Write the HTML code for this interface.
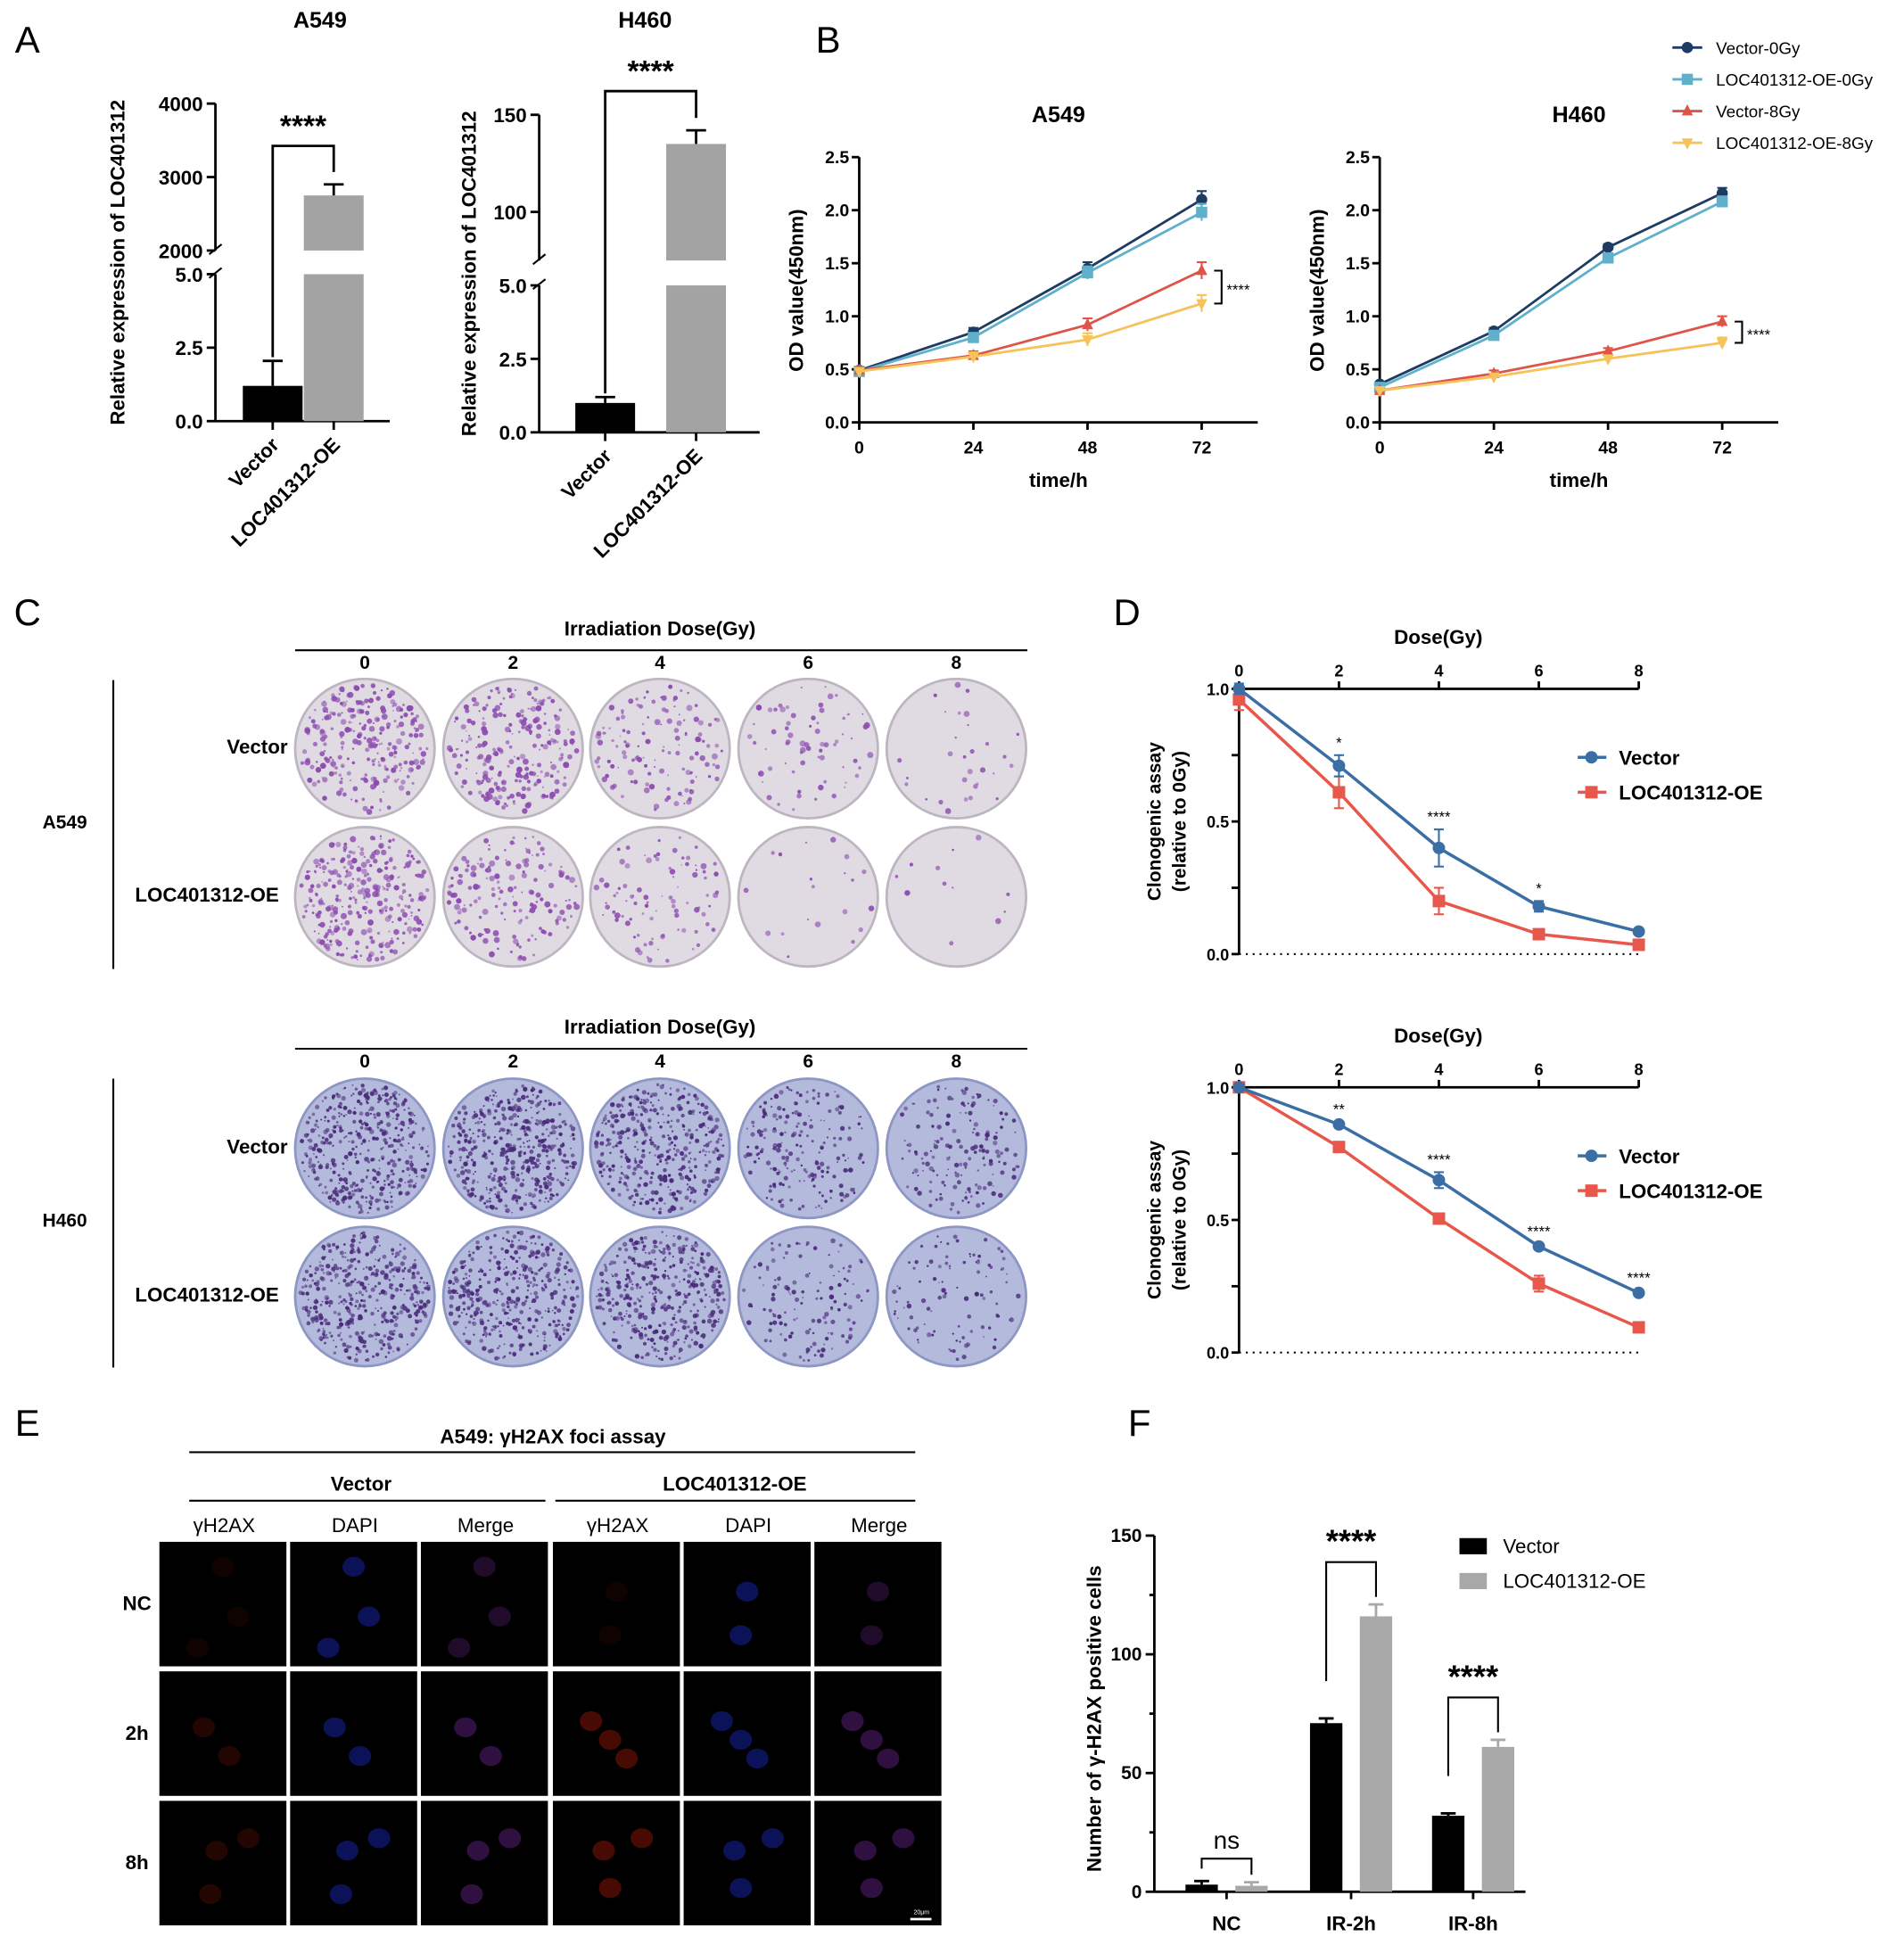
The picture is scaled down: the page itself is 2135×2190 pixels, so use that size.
<!DOCTYPE html>
<html><head><meta charset="utf-8"><style>
html,body{margin:0;padding:0;background:#fff}
svg{display:block}
text{font-family:"Liberation Sans",Arial,sans-serif}
</style></head><body>
<svg id="fig" xmlns="http://www.w3.org/2000/svg" width="2135" height="2190" viewBox="0 0 1529 1568"></svg>
<script>
// ---- data ----
const aCats=["Vector","LOC401312-OE"];
const aA549Vals=[1.2,2750];
const aA549Err=[2.05,2900];
const aH460Vals=[1.0,135];
const aH460Err=[1.2,142];
const bTimes=[0,24,48,72];
const bTicksY=[0,0.5,1.0,1.5,2.0,2.5];
const bA549V0=[0.49,0.85,1.45,2.10];
const bA549OE0=[0.48,0.80,1.41,1.98];
const bA549V8=[0.49,0.63,0.92,1.43];
const bA549OE8=[0.48,0.62,0.78,1.12];
const bA549Err=[0.03,0.04,0.06,0.08];
const bH460V0=[0.36,0.86,1.65,2.16];
const bH460OE0=[0.33,0.82,1.55,2.08];
const bH460V8=[0.30,0.46,0.67,0.95];
const bH460OE8=[0.30,0.43,0.60,0.75];
const bH460Err=[0.02,0.03,0.03,0.05];
const dDoses=[0,2,4,6,8];
const dA549Vec=[1.0,0.71,0.40,0.18,0.085];
const dA549VecErr=[0.02,0.04,0.07,0.02,0.01];
const dA549OE=[0.96,0.61,0.20,0.075,0.035];
const dA549OEErr=[0.04,0.06,0.05,0.01,0.01];
const dA549Stars=["","*","****","*",""];
const dH460Vec=[1.0,0.86,0.65,0.40,0.225];
const dH460VecErr=[0.01,0.01,0.03,0.01,0.01];
const dH460OE=[1.0,0.775,0.505,0.26,0.095];
const dH460OEErr=[0.01,0.01,0.01,0.03,0.01];
const dH460Stars=["","**","****","****","****"];
const fGroups=["NC","IR-2h","IR-8h"];
const fVector=[3,71,32];
const fVectorErr=[4.5,73,33];
const fOE=[2.5,116,61];
const fOEErr=[4,121,64];
const fSig=["ns","****","****"];
const cDoses=["0","2","4","6","8"];
const cA549Vec=[260,240,130,70,30];
const cA549OE=[300,160,90,20,12];
const cH460Vec=[420,440,380,200,160];
const cH460OE=[400,380,380,130,100];

// ---- helpers ----
const NS="http://www.w3.org/2000/svg";
const svg=document.getElementById('fig');
function mk(tag,a,name,p){
  const e=document.createElementNS(NS,tag);
  for(const k in a) e.setAttribute(k,a[k]);
  
  
  (p||svg).appendChild(e);return e;
}
function tx(x,y,s,name,o){
  o=o||{};
  const e=mk('text',{x:x,y:y,'font-size':o.fs||15,'font-weight':o.fw||'bold','text-anchor':o.a||'middle',fill:o.fill||'#000'},name,o.p);
  if(o.rot!==undefined) e.setAttribute('transform',`rotate(${o.rot} ${x} ${y})`);
  e.textContent=s;return e;
}
function ln(x1,y1,x2,y2,name,o){o=o||{};return mk('line',{x1,y1,x2,y2,stroke:o.c||'#000','stroke-width':o.w||2,'stroke-dasharray':o.d||'none'},name,o.p);}
function rc(x,y,w,h,f,name){return mk('rect',{x,y,width:w,height:h,fill:f},name);}
function marker(t,x,y,c,name,s){
  s=s||5;
  if(t==='circle') return mk('circle',{cx:x,cy:y,r:s,fill:c},name);
  if(t==='square') return mk('rect',{x:x-s,y:y-s,width:2*s,height:2*s,fill:c},name);
  if(t==='up') return mk('polygon',{points:`${x},${y-s-1} ${x-s},${y+s-1} ${x+s},${y+s-1}`,fill:c},name);
  return mk('polygon',{points:`${x},${y+s+1} ${x-s},${y-s+1} ${x+s},${y-s+1}`,fill:c},name);
}
let seed=7;function rnd(){seed=(seed*16807)%2147483647;return seed/2147483647;}

// ---- panel letters ----
[["A",22,42],["B",665,42],["C",22,502],["D",905,502],["E",22,1153],["F",915,1153]].forEach(l=>tx(l[1],l[2],l[0],'panel-label-'+l[0].toLowerCase(),{fs:30,fw:'normal',a:'middle'}));

// ---- Panel A ----
function panelA(cfg){
  const X=cfg.ax, n=cfg.name;
  tx(cfg.titleX,22,cfg.title,n+'-title',{fs:18});
  ln(X,cfg.uTop,X,cfg.uBot,n+'-y-axis-upper');
  ln(X,cfg.lTop,X,cfg.base,n+'-y-axis-lower');
  ln(X-5,cfg.uBot+3,X+5,cfg.uBot-5,n+'-axis-break-1',{w:1.5});
  ln(X-5,cfg.lTop+3,X+5,cfg.lTop-5,n+'-axis-break-2',{w:1.5});
  ln(X,cfg.base,cfg.xEnd,cfg.base,n+'-x-axis');
  const yl=v=>cfg.base-(v/5)*(cfg.base-cfg.lTop);
  const yu=v=>cfg.uRef-(v-cfg.uRefV)*cfg.uScale;
  const Y=v=>v<=5?yl(v):yu(v);
  cfg.lowTicks.forEach(t=>{ln(X-7,yl(t),X,yl(t),n+'-tick');tx(X-10,yl(t)+6,t.toFixed(1),n+'-tick-label',{fs:16,a:'end'});});
  cfg.upTicks.forEach(t=>{ln(X-7,yu(t),X,yu(t),n+'-tick');tx(X-10,yu(t)+6,String(t),n+'-tick-label',{fs:16,a:'end'});});
  tx(cfg.ylx,(cfg.uTop+cfg.base)/2,'Relative expression of LOC401312',n+'-y-axis-title',{fs:16,rot:-90});
  const vals=cfg.vals, errs=cfg.errs;
  const b0=cfg.bars[0];
  rc(b0,Y(vals[0]),48,cfg.base-Y(vals[0]),'#000',n+'-bar-vector');
  ln(b0+24,Y(vals[0]),b0+24,Y(errs[0]),n+'-err-vector');
  ln(b0+16,Y(errs[0]),b0+32,Y(errs[0]),n+'-err-cap-vector');
  const b1=cfg.bars[1];
  rc(b1,cfg.lTop,48,cfg.base-cfg.lTop,'#a3a3a3',n+'-bar-oe-lower');
  rc(b1,Y(vals[1]),48,cfg.uBot-Y(vals[1]),'#a3a3a3',n+'-bar-oe-upper');
  ln(b1+24,Y(vals[1]),b1+24,Y(errs[1]),n+'-err-oe');
  ln(b1+16,Y(errs[1]),b1+32,Y(errs[1]),n+'-err-cap-oe');
  mk('polyline',{points:`${b0+24},${Y(errs[0])-3} ${b0+24},${cfg.brY} ${b1+24},${cfg.brY} ${b1+24},${Y(errs[1])-10}`,fill:'none',stroke:'#000','stroke-width':2},n+'-sig-bracket');
  tx((b0+b1)/2+24,cfg.brY-8,'****',n+'-sig-stars',{fs:24});
  ln(b0+24,cfg.base,b0+24,cfg.base+7,n+'-x-tick');ln(b1+24,cfg.base,b1+24,cfg.base+7,n+'-x-tick');
  tx(b0+30,cfg.base+20,aCats[0],n+'-x-label-vector',{fs:16,a:'end',rot:-45});
  tx(b1+30,cfg.base+20,aCats[1],n+'-x-label-oe',{fs:16,a:'end',rot:-45});
}
panelA({name:'a549-expr',title:'A549',titleX:257,ax:173,uTop:83,uBot:201,lTop:220,base:338,xEnd:313,
  uRef:83,uRefV:4000,uScale:59/1000,upTicks:[4000,3000,2000],lowTicks:[0,2.5,5],ylx:100,
  vals:aA549Vals,errs:aA549Err,bars:[195,244],brY:117});
panelA({name:'h460-expr',title:'H460',titleX:518,ax:433,uTop:92,uBot:209,lTop:229,base:347,xEnd:610,
  uRef:92,uRefV:150,uScale:78/50,upTicks:[150,100],lowTicks:[0,2.5,5],ylx:382,
  vals:aH460Vals,errs:aH460Err,bars:[462,535],brY:73});

// ---- Panel B ----
const bSeries=[["Vector-0Gy","#1d3b63","circle"],["LOC401312-OE-0Gy","#5fb0cb","square"],["Vector-8Gy","#df5448","up"],["LOC401312-OE-8Gy","#f6c25a","down"]];
bSeries.forEach((s,i)=>{const y=38+i*25.5;ln(1343,y,1367,y,'legend-line-'+i,{c:s[1],w:2});marker(s[2],1355,y,s[1],'legend-marker-'+i,4.5);tx(1378,y+5,s[0],'legend-entry-'+i,{fs:13.5,fw:'normal',a:'start'});});
function panelB(cfg){
  const n=cfg.name,X=cfg.ax,base=339;
  const xs=t=>X+t/72*275, ys=v=>base-v/2.5*213;
  tx(X+160,98,cfg.title,n+'-title',{fs:18});
  ln(X,ys(2.5),X,base,n+'-y-axis');ln(X,base,X+320,base,n+'-x-axis');
  bTicksY.forEach(t=>{ln(X-6,ys(t),X,ys(t),n+'-y-tick');tx(X-8,ys(t)+5,t.toFixed(1),n+'-y-tick-label',{fs:14,a:'end'});});
  bTimes.forEach(t=>{ln(xs(t),base,xs(t),base+6,n+'-x-tick');tx(xs(t),base+25,String(t),n+'-x-tick-label',{fs:14});});
  tx(X+160,391,'time/h',n+'-x-axis-title',{fs:16});
  tx(X-45,base-106,'OD value(450nm)',n+'-y-axis-title',{fs:16,rot:-90});
  cfg.series.forEach((d,si)=>{
    const s=bSeries[si];
    mk('polyline',{points:d.map((v,i)=>xs(bTimes[i])+','+ys(v)).join(' '),fill:'none',stroke:s[1],'stroke-width':2},n+'-line-'+si);
    d.forEach((v,i)=>{const e=cfg.err[i];ln(xs(bTimes[i]),ys(v-e),xs(bTimes[i]),ys(v+e),n+'-err-'+si,{c:s[1],w:1.5});ln(xs(bTimes[i])-4,ys(v+e),xs(bTimes[i])+4,ys(v+e),n+'-err-cap',{c:s[1],w:1.5});marker(s[2],xs(bTimes[i]),ys(v),s[1],n+'-point-'+si,4.5);});
  });
  const bx=xs(72)+10, y1=ys(cfg.series[2][3]), y2=ys(cfg.series[3][3]);
  mk('polyline',{points:`${bx},${y1} ${bx+6},${y1} ${bx+6},${y2} ${bx},${y2}`,fill:'none',stroke:'#000','stroke-width':1.5},n+'-sig-bracket');
  tx(bx+10,(y1+y2)/2+6,'****',n+'-sig-stars',{fs:12,a:'start',fw:'normal'});
}
panelB({name:'b-a549',title:'A549',ax:690,series:[bA549V0,bA549OE0,bA549V8,bA549OE8],err:bA549Err});
panelB({name:'b-h460',title:'H460',ax:1108,series:[bH460V0,bH460OE0,bH460V8,bH460OE8],err:bH460Err});

// ---- Panel C ----
const plateX=[293,412,530,649,768];
function plate(cx,cy,count,type,name){
  const g=mk('g',{},name);
  const bg=type==='a'?'#e0dbe2':'#b4badc', rim=type==='a'?'#bdb6c2':'#8e96c4', dot=type==='a'?'#8c4cb0':'#4a2a7a';
  mk('circle',{cx,cy,r:57,fill:rim},name+'-rim',g);
  mk('circle',{cx,cy,r:55,fill:bg},name+'-bg',g);
  for(let i=0;i<count;i++){const a=rnd()*6.283,r=Math.sqrt(rnd())*52;const rr=type==='a'?0.6+rnd()*1.9:0.6+rnd()*1.4;
    mk('circle',{cx:cx+r*Math.cos(a),cy:cy+r*Math.sin(a),r:rr,fill:dot,opacity:0.5+rnd()*0.5},name+'-colony',g);}
}
function blockC(cfg){
  tx(530,cfg.ty,'Irradiation Dose(Gy)',cfg.n+'-dose-title',{fs:16});
  ln(237,cfg.ty+12,825,cfg.ty+12,cfg.n+'-dose-line',{w:1.5});
  cDoses.forEach((d,i)=>tx(plateX[i],cfg.ty+27,d,cfg.n+'-dose-label',{fs:15}));
  ln(91,cfg.ty+36,91,cfg.ty+268,cfg.n+'-group-line',{w:1.5});
  tx(52,cfg.ty+155,cfg.cell,cfg.n+'-cell-label',{fs:15});
  tx(231,cfg.r1+4,'Vector',cfg.n+'-row-label-vector',{fs:16,a:'end'});
  tx(224,cfg.r2+4,'LOC401312-OE',cfg.n+'-row-label-oe',{fs:16,a:'end'});
  cfg.v.forEach((c,i)=>plate(plateX[i],cfg.r1,c,cfg.t,cfg.n+'-plate-vector-'+i));
  cfg.o.forEach((c,i)=>plate(plateX[i],cfg.r2,c,cfg.t,cfg.n+'-plate-oe-'+i));
}
blockC({n:'c-a549',ty:510,cell:'A549',r1:601,r2:720,v:cA549Vec,o:cA549OE,t:'a'});
blockC({n:'c-h460',ty:830,cell:'H460',r1:922,r2:1041,v:cH460Vec,o:cH460OE,t:'h'});

// ---- Panel D ----
function panelD(cfg){
  const n=cfg.n,X=995,top=cfg.top,bot=top+213;
  const xs=d=>X+d/8*321, ys=v=>bot-v*213;
  tx(1155,top-36,'Dose(Gy)',n+'-x-axis-title',{fs:16});
  ln(X,top,1316,top,n+'-x-axis');ln(X,top,X,bot,n+'-y-axis');
  ln(X,bot,1316,bot,n+'-zero-line',{w:1.5,d:'1.5 4'});
  dDoses.forEach(d=>{ln(xs(d),top,xs(d),top-6,n+'-x-tick');tx(xs(d),top-10,String(d),n+'-x-tick-label',{fs:13});});
  [0,0.25,0.5,0.75,1].forEach(t=>{ln(X-6,ys(t),X,ys(t),n+'-y-tick');if(t%0.5===0)tx(X-8,ys(t)+5,t.toFixed(1),n+'-y-tick-label',{fs:13,a:'end'});});
  tx(932,(top+bot)/2,'Clonogenic assay',n+'-y-axis-title-1',{fs:15,rot:-90});
  tx(952,(top+bot)/2,'(relative to 0Gy)',n+'-y-axis-title-2',{fs:15,rot:-90});
  [[cfg.oe,cfg.oeE,'#e8574c','square','oe'],[cfg.vec,cfg.vecE,'#3a6ea5','circle','vector']].forEach(s=>{
    mk('polyline',{points:s[0].map((v,i)=>xs(dDoses[i])+','+ys(v)).join(' '),fill:'none',stroke:s[2],'stroke-width':2.5},n+'-line-'+s[4]);
    s[0].forEach((v,i)=>{const e=s[1][i];ln(xs(dDoses[i]),ys(v-e),xs(dDoses[i]),ys(v+e),n+'-err',{c:s[2],w:1.5});
      ln(xs(dDoses[i])-4,ys(v+e),xs(dDoses[i])+4,ys(v+e),n+'-err-cap',{c:s[2],w:1.5});ln(xs(dDoses[i])-4,ys(v-e),xs(dDoses[i])+4,ys(v-e),n+'-err-cap',{c:s[2],w:1.5});
      marker(s[3],xs(dDoses[i]),ys(v),s[2],n+'-point-'+s[4],5);});
  });
  cfg.stars.forEach((s,i)=>{if(s)tx(xs(dDoses[i]),ys(cfg.vec[i]+cfg.vecE[i])-6,s,n+'-sig-stars',{fs:12,fw:'normal'});});
  ln(1267,top+55,1290,top+55,n+'-legend-line-vector',{c:'#3a6ea5',w:2.5});marker('circle',1278,top+55,'#3a6ea5',n+'-legend-marker-vector',5);
  tx(1300,top+61,'Vector',n+'-legend-entry-vector',{fs:16,a:'start'});
  ln(1267,top+83,1290,top+83,n+'-legend-line-oe',{c:'#e8574c',w:2.5});marker('square',1278,top+83,'#e8574c',n+'-legend-marker-oe',5);
  tx(1300,top+89,'LOC401312-OE',n+'-legend-entry-oe',{fs:16,a:'start'});
}
panelD({n:'d-a549',top:553,vec:dA549Vec,vecE:dA549VecErr,oe:dA549OE,oeE:dA549OEErr,stars:dA549Stars});
panelD({n:'d-h460',top:873,vec:dH460Vec,vecE:dH460VecErr,oe:dH460OE,oeE:dH460OEErr,stars:dH460Stars});

// ---- Panel E ----
tx(444,1159,'A549: γH2AX foci assay','e-title',{fs:16});
ln(152,1166,735,1166,'e-title-line',{w:1.5});
tx(290,1197,'Vector','e-group-vector',{fs:16});ln(152,1205,438,1205,'e-group-line-vector',{w:1.5});
tx(590,1197,'LOC401312-OE','e-group-oe',{fs:16});ln(446,1205,735,1205,'e-group-line-oe',{w:1.5});
const eCols=[128,233,338,444,549,654], eRows=[1238,1342,1446], eHdr=['γH2AX','DAPI','Merge','γH2AX','DAPI','Merge'], eRowL=['NC','2h','8h'];
eHdr.forEach((h,i)=>tx(eCols[i]+52,1230,h,'e-col-header',{fs:16,fw:'normal'}));
eRowL.forEach((r,j)=>tx(110,eRows[j]+55,r,'e-row-label',{fs:16,a:'middle'}));
const nucPos=[[[0.5,0.2],[0.62,0.6],[0.3,0.85]],[[0.35,0.45],[0.55,0.68]],[[0.45,0.4],[0.4,0.75],[0.7,0.3]]];
const oePos=[[[0.5,0.4],[0.45,0.75]],[[0.3,0.4],[0.45,0.55],[0.58,0.7]],[[0.4,0.4],[0.7,0.3],[0.45,0.7]]];
eRows.forEach((y,j)=>eCols.forEach((x,i)=>{
  rc(x,y,102,100,'#000','e-image');
  const pos=(i<3?nucPos:oePos)[j], ch=i%3;
  const strong=j>0;
  pos.forEach(p=>{
    const col=ch===0?'#a01808':ch===1?'#1a28c0':'#6a2490';
    let op=ch===0?(strong?(i>=3?0.45:0.22):0.1):ch===1?0.45:(strong?0.45:0.3);
    mk('ellipse',{cx:x+p[0]*102,cy:y+p[1]*100,rx:9,ry:8,fill:col,opacity:op},'e-nucleus');
  });
}));
ln(731,1541,748,1541,'e-scale-bar',{c:'#fff',w:2});tx(740,1537,'20μm','e-scale-text',{fs:5,fill:'#fff',fw:'normal'});

// ---- Panel F ----
(function(){
  const X=927,base=1519,ys=v=>base-v/150*286, gx=[985,1085,1183];
  ln(X,ys(150),X,base,'f-y-axis');ln(X,base,1225,base,'f-x-axis');
  [0,50,100,150].forEach(t=>{ln(X-7,ys(t),X,ys(t),'f-y-tick');tx(X-10,ys(t)+5,String(t),'f-y-tick-label',{fs:15,a:'end'});});
  [25,75,125].forEach(t=>ln(X-4,ys(t),X,ys(t),'f-y-minor-tick'));
  tx(884,1380,'Number of γ-H2AX positive cells','f-y-axis-title',{fs:16,rot:-90});
  fGroups.forEach((g,i)=>{
    const c=gx[i];
    rc(c-33,ys(fVector[i]),26,base-ys(fVector[i]),'#000','f-bar-vector-'+g);
    ln(c-20,ys(fVector[i]),c-20,ys(fVectorErr[i]),'f-err-vector');ln(c-26,ys(fVectorErr[i]),c-14,ys(fVectorErr[i]),'f-err-cap-vector');
    rc(c+7,ys(fOE[i]),26,base-ys(fOE[i]),'#a8a8a8','f-bar-oe-'+g);
    ln(c+20,ys(fOE[i]),c+20,ys(fOEErr[i]),'f-err-oe',{c:'#a8a8a8'});ln(c+14,ys(fOEErr[i]),c+26,ys(fOEErr[i]),'f-err-cap-oe',{c:'#a8a8a8'});
    ln(c,base,c,base+6,'f-x-tick');
    tx(c,base+31,g,'f-x-label-'+g,{fs:16});
    const top=Math.min(ys(fVectorErr[i]),ys(fOEErr[i]))-(i===0?18:34);
    mk('polyline',{points:`${c-20},${ys(fVectorErr[i])-(i===0?10:30)} ${c-20},${top} ${c+20},${top} ${c+20},${ys(fOEErr[i])-6}`,fill:'none',stroke:'#000','stroke-width':1.5},'f-sig-bracket-'+g);
    tx(c,top-8,fSig[i],'f-sig-'+g,{fs:i===0?20:26,fw:i===0?'normal':'bold'});
  });
  rc(1172,1235,22,13,'#000','f-legend-swatch-vector');tx(1207,1247,'Vector','f-legend-entry-vector',{fs:16,fw:'normal',a:'start'});
  rc(1172,1263,22,13,'#a8a8a8','f-legend-swatch-oe');tx(1207,1275,'LOC401312-OE','f-legend-entry-oe',{fs:16,fw:'normal',a:'start'});
})();
</script>
</body></html>
